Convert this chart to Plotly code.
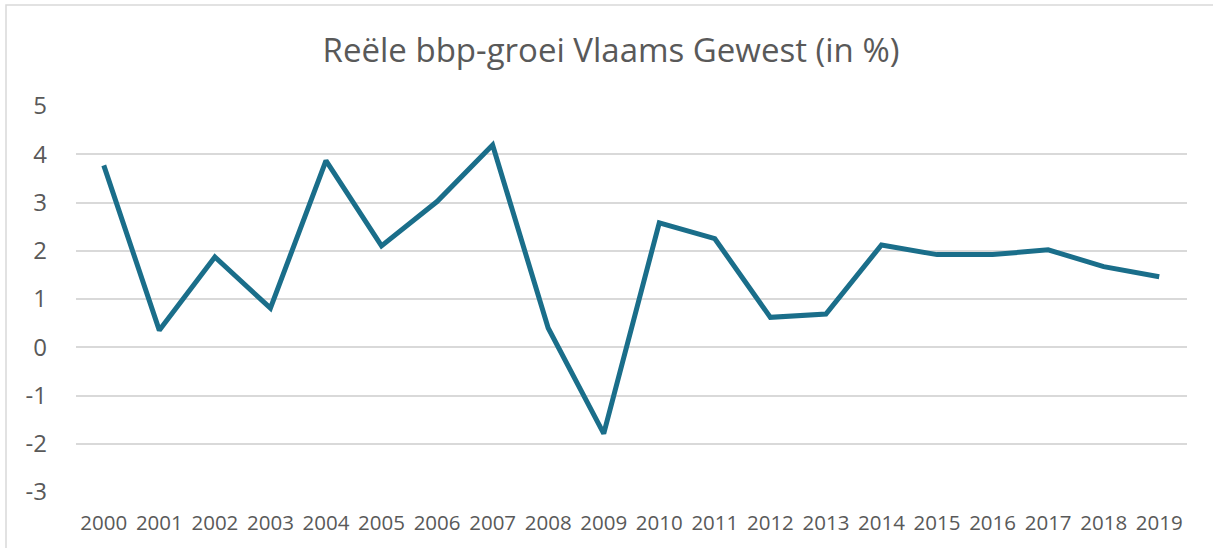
import plotly.graph_objects as go

years = [str(y) for y in range(2000, 2020)]
growth = [3.77, 0.35, 1.87, 0.81, 3.87, 2.10, 3.02, 4.19, 0.40, -1.79,
          2.58, 2.25, 0.62, 0.69, 2.12, 1.92, 1.92, 2.02, 1.67, 1.46]
y_ticks = [5, 4, 3, 2, 1, 0, -1, -2, -3]
y_tick_labels = ["5", "4", "3", "2", "1", "0", "-1", "-2", "-3"]

W, H = 1213, 548
ml, mr, mt, mb = 76, 26, 106, 56
pw, ph = W - ml - mr, H - mt - mb

fig = go.Figure(go.Scatter(
    x=years, y=growth, mode="lines",
    line=dict(color="#1a6e8a", width=5),
    hoverinfo="x+y",
))

txt = "#595959"
fig.update_layout(
    width=W, height=H,
    margin=dict(l=ml, r=mr, t=mt, b=mb, autoexpand=False),
    paper_bgcolor="white", plot_bgcolor="white",
    showlegend=False,
    title=dict(text="Reële bbp-groei Vlaams Gewest (in %)", x=611 / W, xref="container",
               xanchor="center", y=1 - 50 / H, yref="container", yanchor="middle",
               font=dict(family="Open Sans", size=33, color=txt)),
    font=dict(family="Open Sans", color=txt),
    xaxis=dict(type="category", range=[-0.5, len(years) - 0.5], automargin=False,
               showgrid=False, zeroline=False, showline=False,
               ticks="", tickfont=dict(size=20.5, color=txt), ticklabelstandoff=16),
    yaxis=dict(range=[-3, 5], tickvals=y_ticks, ticktext=y_tick_labels, automargin=False,
               showgrid=True, gridcolor="#d9d9d9",
               gridwidth=1.5, zeroline=False, showline=False, ticks="",
               tickfont=dict(size=24, color=txt), ticklabelstandoff=28),
    shapes=[dict(type="rect", xref="paper", yref="paper",
                 x0=(6 - ml) / pw, x1=(W + 10 - ml) / pw,
                 y0=-(H + 10 - mt - ph) / ph, y1=(mt - 5) / ph + 1,
                 line=dict(color="#d9d9d9", width=1.5), layer="below")],
)

fig.write_html("out.html", config={"displayModeBar": False},
               post_script="document.body.style.margin='0';document.body.style.padding='0';")
